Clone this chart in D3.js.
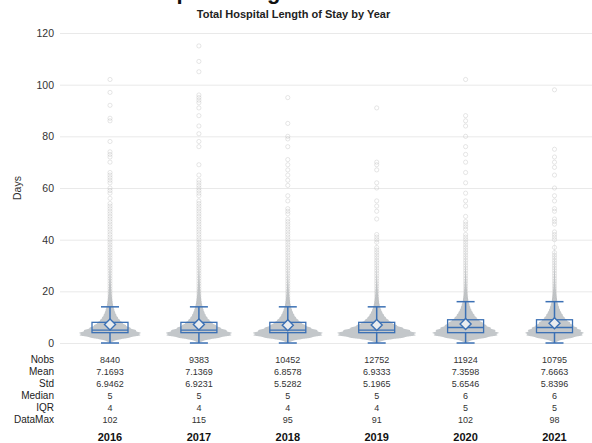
<!DOCTYPE html>
<html>
<head>
<meta charset="utf-8">
<script src="https://cdn.jsdelivr.net/npm/d3@7/dist/d3.min.js"></script>
<style>
  html, body { margin: 0; padding: 0; background: #fff; }
  svg { display: block; font-family: "Liberation Sans", Arial, sans-serif; }
</style>
</head>
<body>
<svg id="chart" width="592" height="443"></svg>
<script>
// ---- data ----
const years = ["2016", "2017", "2018", "2019", "2020", "2021"];
const nobs = [8440, 9383, 10452, 12752, 11924, 10795];
const means = [7.1693, 7.1369, 6.8578, 6.9333, 7.3598, 7.6663];
const stds = [6.9462, 6.9231, 5.5282, 5.1965, 5.6546, 5.8396];
const medians = [5, 5, 5, 5, 6, 6];
const iqrs = [4, 4, 4, 4, 5, 5];
const dataMax = [102, 115, 95, 91, 102, 98];
const q1 = [4, 4, 4, 4, 4, 4];
const q3 = [8, 8, 8, 8, 9, 9];
const whiskerLo = [0, 0, 0, 0, 0, 0];
const whiskerHi = [14, 14, 14, 14, 16, 16];
const yTicks = [0, 20, 40, 60, 80, 100, 120];

// patient counts by length of stay, days 0..40
const dayCounts = [
  [20,150,700,1150,1150,950,740,580,460,360,290,230,190,160,135,110,95,80,68,58,50,44,38,33,29,26,23,20,18,16,14,12,11,10,9,8,7,6,6,5,5],
  [22,160,750,1230,1230,1010,790,620,490,385,310,245,205,170,145,118,100,85,72,62,54,47,41,36,31,28,25,22,19,17,15,13,12,11,10,9,8,7,6,6,5],
  [25,180,850,1300,1300,1080,840,650,500,385,300,235,190,155,125,100,84,70,58,48,40,34,29,25,21,18,15,13,11,10,9,8,7,6,5,5,4,4,3,3,3],
  [30,210,980,1470,1470,1220,950,730,560,430,335,260,205,165,132,106,88,72,59,49,41,34,29,24,20,17,14,12,10,9,8,7,6,5,5,4,4,3,3,3,2],
  [25,170,750,1200,1240,1100,920,760,620,500,400,320,260,210,170,140,115,95,78,65,55,46,39,33,28,24,20,17,15,13,11,10,9,8,7,6,5,5,4,4,3],
  [22,150,660,1060,1090,980,830,690,570,460,370,300,245,200,165,135,112,93,77,64,54,45,38,32,27,23,20,17,15,13,11,10,9,8,7,6,5,5,4,4,3]
];

// distinct stays above the upper whisker
const outliers2016 = [15,16,17,18,19,20,21,22,23,24,25,26,27,28,29,30,31,32,33,34,35,36,37,38,39,40,41,42,43,44,45,46,47,48,49,50,51,52,53,54,56,58,59,60,62,63,64,65,66,70,72,73,74,78,86,87,92,97,102];
const outliers2017 = [15,16,17,18,19,20,21,22,23,24,25,26,27,28,29,30,31,32,33,34,35,36,37,38,39,40,41,42,43,44,45,46,47,48,49,50,51,52,53,54,55,57,58,59,60,61,62,63,65,69,76,78,81,84,88,91,93,94,95,96,105,109,115];
const outliers2018 = [15,16,17,18,19,20,21,22,23,24,25,26,27,28,29,30,31,32,33,34,35,36,37,38,39,40,41,42,43,44,45,46,47,48,50,51,52,55,57,61,63,65,67,69,71,76,79,80,85,95];
const outliers2019 = [15,16,17,18,19,20,21,22,23,24,25,26,27,28,29,30,31,32,33,34,35,36,37,39,40,41,42,48,51,53,55,60,62,67,69,70,91];
const outliers2020 = [17,18,19,20,21,22,23,24,25,26,27,28,29,30,31,32,33,34,35,36,37,38,39,40,41,42,44,45,46,47,49,53,55,58,62,66,70,73,76,80,84,86,88,102];
const outliers2021 = [17,18,19,20,21,22,23,24,25,26,27,28,29,30,31,32,33,34,35,37,40,41,42,43,46,47,48,51,52,55,57,60,65,68,70,72,75,98];
const outliers = [outliers2016, outliers2017, outliers2018, outliers2019, outliers2020, outliers2021];

const statRows = [
  { label: "Nobs", values: nobs, fmt: d => String(d) },
  { label: "Mean", values: means, fmt: d => d.toFixed(4) },
  { label: "Std", values: stds, fmt: d => d.toFixed(4) },
  { label: "Median", values: medians, fmt: d => String(d) },
  { label: "IQR", values: iqrs, fmt: d => String(d) },
  { label: "DataMax", values: dataMax, fmt: d => String(d) }
];

// ---- layout ----
const svg = d3.select("#chart");
const blue = "#3b70b4";
const plotLeft = 60, plotRight = 592;

const x = d3.scalePoint().domain(years).range([110, 554.5]);
const y = d3.scaleLinear().domain([0, 120]).range([343, 33]);

// clipped page heading above the chart title
svg.append("text")
  .attr("x", 78).attr("y", -1.3)
  .attr("font-size", 22).attr("font-weight", "bold").attr("fill", "#111")
  .text("Total Hospital Length");

svg.append("text")
  .attr("x", 293.5).attr("y", 17.5)
  .attr("text-anchor", "middle")
  .attr("font-size", 11).attr("font-weight", "bold").attr("fill", "#222")
  .text("Total Hospital Length of Stay by Year");

// y axis: gridlines and labels
const yAxis = d3.axisLeft(y).tickValues(yTicks).tickSize(-(plotRight - plotLeft)).tickPadding(6);
const gAxis = svg.append("g").attr("transform", `translate(${plotLeft},0)`).call(yAxis);
gAxis.select(".domain").remove();
gAxis.selectAll(".tick line").attr("stroke", "#e9e9e9").attr("stroke-width", 1);
gAxis.selectAll(".tick text")
  .attr("font-size", 10.5).attr("fill", "#333")
  .attr("font-family", "Liberation Sans, Arial, sans-serif");

svg.append("text")
  .attr("transform", `translate(21,${y(60)}) rotate(-90)`)
  .attr("text-anchor", "middle")
  .attr("font-size", 10.5).attr("fill", "#333")
  .text("Days");

// violins from a narrow kernel density over the day counts
const bw = 0.45;
const kern = u => Math.exp(-0.5 * u * u) / Math.sqrt(2 * Math.PI);
const grid = d3.range(0, 40.01, 0.1);
const dens = dayCounts.map(c => grid.map(t => {
  let s = 0;
  c.forEach((n, d) => { s += n * kern((t - d) / bw); });
  return s / bw;
}));
const maxDens = d3.max(dens, a => d3.max(a));
const w = d3.scaleLinear().domain([0, maxDens]).range([0, 39.5]);

const groups = svg.append("g").selectAll("g").data(years).join("g")
  .attr("transform", d => `translate(${x(d)},0)`);

groups.append("path")
  .attr("fill", "#c3c7ca")
  .attr("d", (d, i) => d3.area()
    .x0(p => -w(p[1])).x1(p => w(p[1]))
    .y(p => y(p[0]))
    .curve(d3.curveBasis)(grid.map((t, k) => [t, dens[i][k]])));

// outlier markers
groups.each(function (d, i) {
  d3.select(this).selectAll("circle.out").data(outliers[i]).join("circle")
    .attr("class", "out")
    .attr("cx", 0).attr("cy", v => y(v)).attr("r", 2.1)
    .attr("fill", "none").attr("stroke", "#b8b8b8")
    .attr("stroke-opacity", 0.45).attr("stroke-width", 0.8);
});

// box and whiskers
const boxHalf = 18, capHalf = 9;
groups.append("line")
  .attr("y1", (d, i) => y(whiskerLo[i])).attr("y2", (d, i) => y(q1[i]))
  .attr("stroke", blue).attr("stroke-width", 1.5);
groups.append("line")
  .attr("y1", (d, i) => y(q3[i])).attr("y2", (d, i) => y(whiskerHi[i]))
  .attr("stroke", blue).attr("stroke-width", 1.5);
groups.append("line")
  .attr("x1", -capHalf).attr("x2", capHalf)
  .attr("y1", (d, i) => y(whiskerLo[i])).attr("y2", (d, i) => y(whiskerLo[i]))
  .attr("stroke", blue).attr("stroke-width", 1.5);
groups.append("line")
  .attr("x1", -capHalf).attr("x2", capHalf)
  .attr("y1", (d, i) => y(whiskerHi[i])).attr("y2", (d, i) => y(whiskerHi[i]))
  .attr("stroke", blue).attr("stroke-width", 1.5);
groups.append("rect")
  .attr("x", -boxHalf).attr("width", 2 * boxHalf)
  .attr("y", (d, i) => y(q3[i])).attr("height", (d, i) => y(q1[i]) - y(q3[i]))
  .attr("fill", "none").attr("stroke", blue).attr("stroke-width", 1.3);
groups.append("line")
  .attr("x1", -boxHalf).attr("x2", boxHalf)
  .attr("y1", (d, i) => y(medians[i])).attr("y2", (d, i) => y(medians[i]))
  .attr("stroke", blue).attr("stroke-width", 1.3);
groups.append("path")
  .attr("transform", (d, i) => `translate(0,${y(means[i])})`)
  .attr("d", "M0,-5.5L5.5,0L0,5.5L-5.5,0Z")
  .attr("fill", "#e9ecef").attr("stroke", blue).attr("stroke-width", 1.4);

// statistics table
const rowY0 = 362.5, rowStep = 12;
const table = svg.append("g");
statRows.forEach((row, r) => {
  table.append("text")
    .attr("x", 54).attr("y", rowY0 + r * rowStep)
    .attr("text-anchor", "end").attr("font-size", 10).attr("fill", "#222")
    .text(row.label);
  table.selectAll(null).data(years).join("text")
    .attr("x", d => x(d)).attr("y", rowY0 + r * rowStep)
    .attr("text-anchor", "middle").attr("font-size", 9).attr("fill", "#333")
    .text((d, i) => row.fmt(row.values[i]));
});

svg.append("g").selectAll("text").data(years).join("text")
  .attr("x", d => x(d)).attr("y", 440.5)
  .attr("text-anchor", "middle").attr("font-size", 11).attr("font-weight", "bold").attr("fill", "#111")
  .text(d => d);
</script>
</body>
</html>
